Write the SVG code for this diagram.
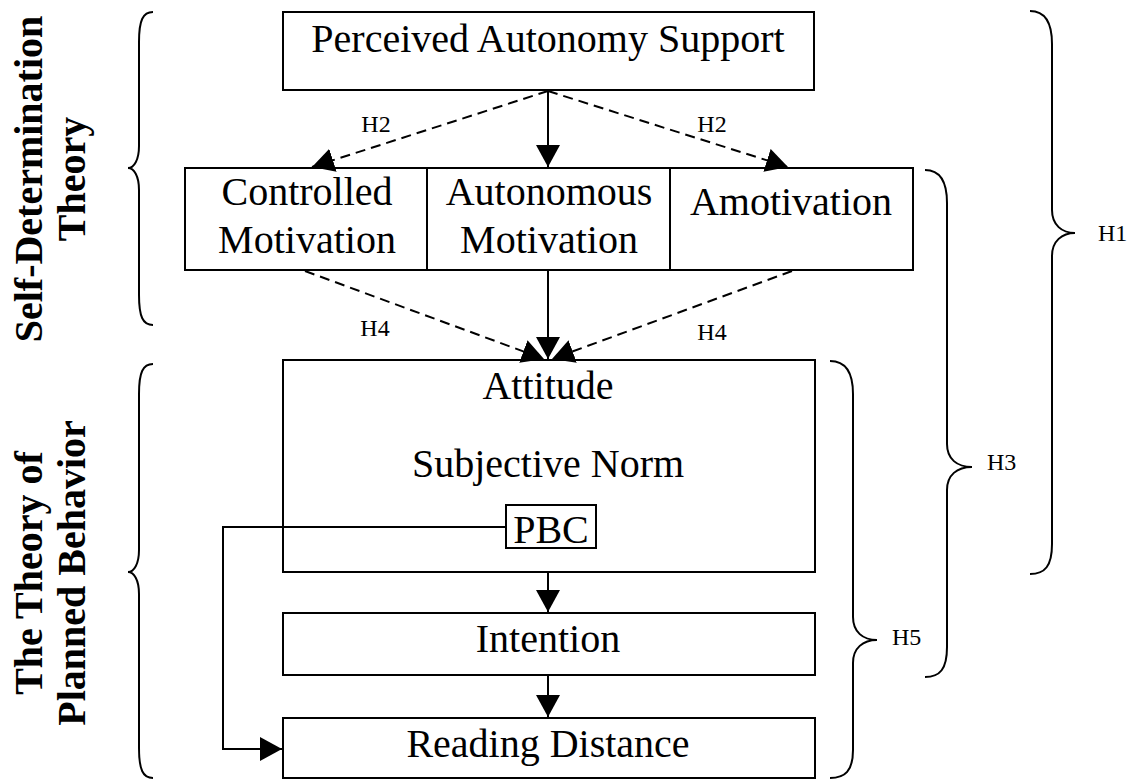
<svg xmlns="http://www.w3.org/2000/svg" width="1136" height="780" viewBox="0 0 1136 780">
<style>
.box{fill:#fff;stroke:#000;stroke-width:2}
.t{font-family:"Liberation Serif","Times New Roman",serif;font-size:40px;fill:#000;text-anchor:middle}
.side{font-family:"Liberation Serif","Times New Roman",serif;font-size:40px;font-weight:bold;fill:#000;text-anchor:middle}
.h{font-family:"Liberation Serif","Times New Roman",serif;font-size:24px;fill:#000}
.ln{fill:none;stroke:#000;stroke-width:2}
.dash{fill:none;stroke:#000;stroke-width:2;stroke-dasharray:10 6}
.brace{fill:none;stroke:#000;stroke-width:2}
</style>
<defs>
<marker id="ah" markerUnits="userSpaceOnUse" markerWidth="24" markerHeight="24" refX="22" refY="12" orient="auto" viewBox="0 0 24 24">
<path d="M0,0 L22,12 L0,24 z" fill="#000"/>
</marker>
</defs>
<rect width="1136" height="780" fill="#fff"/>

<g id="side-labels">
<text class="side" transform="translate(42,179) rotate(-90)">Self-Determination</text>
<text class="side" transform="translate(85,179) rotate(-90)">Theory</text>
<text class="side" transform="translate(42,573) rotate(-90)">The Theory of</text>
<text class="side" transform="translate(85,573) rotate(-90)">Planned Behavior</text>
</g>

<g id="braces">
<path class="brace" d="M153,12 C143,12 139,20 139,42 L139,146 C139,160 134,168 128,168 C134,168 139,176 139,190 L139,295 C139,317 143,325 153,325"/>
<path class="brace" d="M153,364 C143,364 139,372 139,394 L139,550 C139,564 134,572 128,572 C134,572 139,580 139,594 L139,748 C139,770 143,778 153,778"/>
<path class="brace" d="M1030,11 C1045,11 1052,22 1052,44 L1052,210 C1052,225 1062,233 1075,233 C1062,233 1052,241 1052,256 L1052,544 C1052,566 1045,574 1030,574"/>
<path class="brace" d="M925,170 C940,170 947,181 947,203 L947,444 C947,459 957,467 972,467 C957,467 947,475 947,490 L947,647 C947,669 940,677 925,677"/>
<path class="brace" d="M830,361 C845,361 853,372 853,394 L853,617 C853,632 863,640 877,640 C863,640 853,648 853,663 L853,750 C853,771 845,778 830,778"/>
<text class="h" x="1098" y="241">H1</text>
<text class="h" x="987" y="470">H3</text>
<text class="h" x="892" y="645">H5</text>
</g>

<g id="node-pas">
<rect class="box" x="283" y="12" width="531" height="78"/>
<text class="t" x="548" y="52">Perceived Autonomy Support</text>
</g>

<g id="node-controlled">
<rect class="box" x="185" y="168" width="242" height="102"/>
<text class="t" x="307" y="205">Controlled</text>
<text class="t" x="307" y="253">Motivation</text>
</g>
<g id="node-autonomous">
<rect class="box" x="427" y="168" width="243" height="102"/>
<text class="t" x="549" y="205">Autonomous</text>
<text class="t" x="549" y="253">Motivation</text>
</g>
<g id="node-amotivation">
<rect class="box" x="670" y="168" width="243" height="102"/>
<text class="t" x="791" y="215">Amotivation</text>
</g>

<g id="node-attitude-block">
<rect class="box" x="283" y="360" width="532" height="212"/>
<text class="t" x="548" y="399">Attitude</text>
<text class="t" x="548" y="477">Subjective Norm</text>
</g>

<g id="node-intention">
<rect class="box" x="283" y="613" width="532" height="62"/>
<text class="t" x="548" y="652">Intention</text>
</g>

<g id="node-reading">
<rect class="box" x="283" y="718" width="532" height="60"/>
<text class="t" x="548" y="757">Reading Distance</text>
</g>

<g id="connectors">
<line class="ln" x1="548" y1="91" x2="548" y2="167" marker-end="url(#ah)"/>
<line class="dash" x1="548" y1="91" x2="312" y2="167" marker-end="url(#ah)"/>
<line class="dash" x1="548" y1="91" x2="788" y2="167" marker-end="url(#ah)"/>
<line class="ln" x1="548" y1="271" x2="548" y2="359" marker-end="url(#ah)"/>
<line class="dash" x1="305" y1="271" x2="544" y2="359" marker-end="url(#ah)"/>
<line class="dash" x1="792" y1="271" x2="552" y2="359" marker-end="url(#ah)"/>
<line class="ln" x1="548" y1="572" x2="548" y2="612" marker-end="url(#ah)"/>
<line class="ln" x1="548" y1="675" x2="548" y2="717" marker-end="url(#ah)"/>
<polyline class="ln" points="506,527 223,527 223,749 282,749" marker-end="url(#ah)"/>
<text class="h" x="376" y="132" text-anchor="middle">H2</text>
<text class="h" x="712" y="132" text-anchor="middle">H2</text>
<text class="h" x="375" y="336" text-anchor="middle">H4</text>
<text class="h" x="712" y="340" text-anchor="middle">H4</text>
</g>

<g id="node-pbc">
<rect class="box" x="506" y="505" width="90" height="43"/>
<text class="t" x="551" y="543">PBC</text>
</g>
</svg>
